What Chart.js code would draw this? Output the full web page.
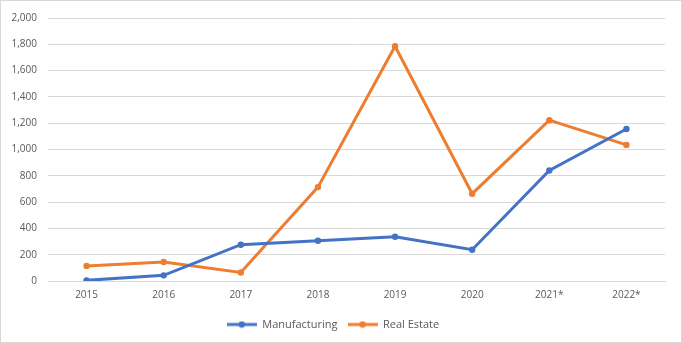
<!DOCTYPE html>
<html>
<head>
<meta charset="utf-8">
<script src="https://cdn.jsdelivr.net/npm/chart.js@4/dist/chart.umd.min.js"></script>
<style>
    html, body { margin: 0; padding: 0; background: #fff; }
    #wrap { width: 682px; height: 343px; box-sizing: border-box; border: 1px solid #d9d9d9; }
    canvas { display: block; }
</style>
</head>
<body>
<div id="wrap"><canvas id="chart" width="680" height="341"></canvas></div>
<script>
// ── Data ────────────────────────────────────────────────────────────────────
const years = ['2015', '2016', '2017', '2018', '2019', '2020', '2021*', '2022*'];
const manufacturing = [5, 43, 276, 306, 336, 238, 840, 1156];
const realEstate = [115, 145, 65, 714, 1785, 664, 1223, 1035];
const yTicks = [0, 200, 400, 600, 800, 1000, 1200, 1400, 1600, 1800, 2000];

// ── Styling ─────────────────────────────────────────────────────────────────
const colors = { blue: '#4472C4', orange: '#ED7D31', grid: '#d9d9d9', text: '#595959' };
const fontFamily = "'Open Sans', sans-serif";

// little line-with-dot swatch for the legend, like Excel draws it
function legendSwatch(color) {
    const c = document.createElement('canvas');
    c.width = 30; c.height = 8;
    const g = c.getContext('2d');
    g.strokeStyle = color;
    g.lineWidth = 3;
    g.beginPath(); g.moveTo(0, 4); g.lineTo(30, 4); g.stroke();
    g.fillStyle = color;
    g.beginPath(); g.arc(15, 4, 3.2, 0, Math.PI * 2); g.fill();
    return c;
}

function series(label, data, color) {
    return {
        label: label,
        data: data,
        borderColor: color,
        backgroundColor: color,
        borderWidth: 3,
        pointRadius: 3.2,
        pointHoverRadius: 3.2,
        pointBorderWidth: 0,
        tension: 0,
        swatch: legendSwatch(color)
    };
}

new Chart(document.getElementById('chart'), {
    type: 'line',
    data: {
        labels: years,
        datasets: [
            series('Manufacturing', manufacturing, colors.blue),
            series('Real Estate', realEstate, colors.orange)
        ]
    },
    options: {
        responsive: false,
        animation: false,
        layout: { padding: { top: 4, right: 16, left: 0, bottom: 2 } },
        plugins: {
            tooltip: { enabled: false },
            legend: {
                position: 'bottom',
                labels: {
                    usePointStyle: true,
                    pointStyleWidth: 30,
                    padding: 10,
                    color: colors.text,
                    font: { family: fontFamily, size: 11 },
                    generateLabels: function (chart) {
                        return chart.data.datasets.map((ds, i) => ({
                            text: ds.label,
                            pointStyle: ds.swatch,
                            fillStyle: ds.borderColor,
                            strokeStyle: ds.borderColor,
                            lineWidth: 0,
                            fontColor: colors.text,
                            datasetIndex: i,
                            hidden: false
                        }));
                    }
                }
            }
        },
        scales: {
            x: {
                offset: true,
                grid: { display: false, drawTicks: false },
                border: { display: true, color: colors.grid, width: 1 },
                ticks: { color: colors.text, font: { family: fontFamily, size: 10 }, padding: 8, maxRotation: 0 }
            },
            y: {
                min: 0,
                max: 2000,
                afterBuildTicks: function (scale) { scale.ticks = yTicks.map(v => ({ value: v })); },
                afterFit: function (scale) { scale.width = 47; },
                grid: { color: colors.grid, drawTicks: false },
                border: { display: false },
                ticks: {
                    color: colors.text,
                    font: { family: fontFamily, size: 10 },
                    padding: 11,
                    callback: v => v.toLocaleString('en-US')
                }
            }
        }
    }
});
</script>
</body>
</html>
